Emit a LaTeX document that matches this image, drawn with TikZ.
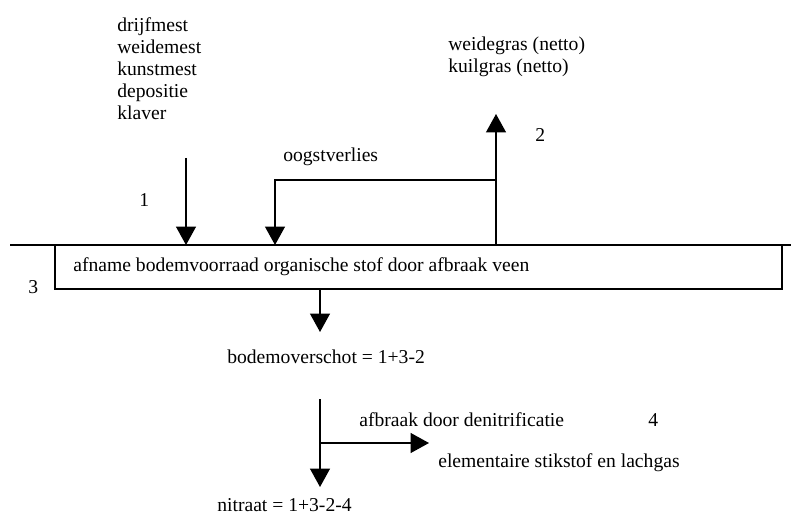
\documentclass[tikz,border=0pt]{standalone}
\usepackage{fontspec}
\setmainfont{Liberation Serif}
\usetikzlibrary{arrows.meta}

\begin{document}
\begin{tikzpicture}[x=0.65pt,y=-0.65pt,font=\fontsize{12.75}{14.3}\selectfont,
  flow/.style={line width=0.9pt,-{Triangle[length=12pt,width=13pt]}},
  lbl/.style={anchor=west,inner sep=0pt,align=left}]
\useasboundingbox (0,0) rectangle (791,516);
% maaiveld en bodemlaag
\draw[line width=0.9pt] (10,245) -- (791,245);
\draw[line width=0.9pt] (55,245) rectangle (782,289);
\node[lbl] (veen) at (73,267) {afname bodemvoorraad organische stof door afbraak veen};
\node[lbl] (n3) at (28,287) {3};
% aanvoer
\node[lbl,anchor=north west] (inputs) at (117,17) {drijfmest\\weidemest\\kunstmest\\depositie\\klaver};
\node[lbl] (n1) at (139,200) {1};
\coordinate (in top) at (186,158);
\coordinate (in end) at (186,245);
\draw[flow] (in top) -- (in end);
% afvoer gras
\node[lbl] (harvest) at (448,57) {weidegras (netto)\\kuilgras (netto)};
\node[lbl] (n2) at (535,135) {2};
\coordinate (harv base) at (496,245);
\coordinate (harv tip) at (496,114);
\draw[flow] (harv base) -- (harv tip);
\node[lbl] (loss) at (283,157) {oogstverlies};
\coordinate (loss start) at (496,180);
\coordinate (loss corner) at (275,180);
\coordinate (loss end) at (275,245);
\draw[flow] (loss start) -- (loss corner) -- (loss end);
% bodemoverschot
\coordinate (soil out) at (320,289);
\coordinate (soil tip) at (320,332);
\draw[flow] (soil out) -- (soil tip);
\node[lbl] (surplus) at (227,357) {bodemoverschot = 1+3-2};
% denitrificatie en nitraat
\coordinate (leach top) at (320,399);
\coordinate (leach tip) at (320,487);
\coordinate (denit start) at (320,443);
\coordinate (denit tip) at (429,443);
\draw[flow] (leach top) -- (leach tip);
\draw[flow] (denit start) -- (denit tip);
\node[lbl] (denit) at (359,420) {afbraak door denitrificatie};
\node[lbl] (n4) at (648,420) {4};
\node[lbl] (gas) at (438,463) {elementaire stikstof en lachgas};
\node[lbl] (nitrate) at (217,505) {nitraat = 1+3-2-4};
\end{tikzpicture}
\end{document}
